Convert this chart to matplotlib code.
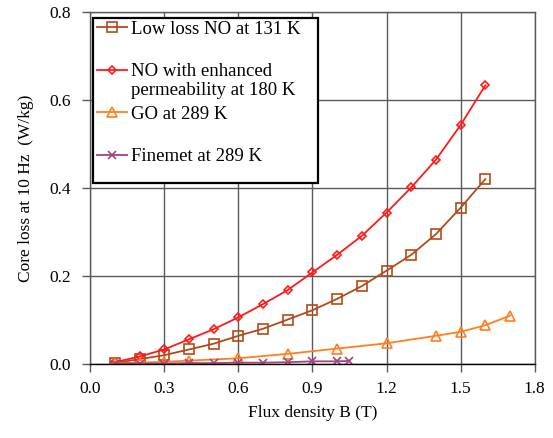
import matplotlib.pyplot as plt
from matplotlib.patches import Rectangle

plt.rcParams['font.family'] = ['Liberation Serif', 'DejaVu Serif']

b_low = [0.1, 0.2, 0.3, 0.4, 0.5, 0.6, 0.7, 0.8, 0.9, 1.0, 1.1, 1.2, 1.3, 1.4, 1.5, 1.6]
p_low = [0.002, 0.011, 0.020, 0.033, 0.046, 0.064, 0.080, 0.101, 0.122, 0.148, 0.177, 0.212,
         0.248, 0.295, 0.355, 0.420]

b_enh = [0.1, 0.2, 0.3, 0.4, 0.5, 0.6, 0.7, 0.8, 0.9, 1.0, 1.1, 1.2, 1.3, 1.4, 1.5, 1.6]
p_enh = [0.004, 0.017, 0.033, 0.056, 0.079, 0.106, 0.136, 0.168, 0.208, 0.248, 0.291, 0.344,
         0.401, 0.464, 0.543, 0.633]

b_go = [0.1, 0.2, 0.3, 0.4, 0.6, 0.8, 1.0, 1.2, 1.4, 1.5, 1.6, 1.7]
p_go = [0.002, 0.003, 0.005, 0.0075, 0.013, 0.023, 0.035, 0.047, 0.064, 0.073, 0.088, 0.110]

b_fin = [0.1, 0.2, 0.3, 0.4, 0.5, 0.6, 0.7, 0.8, 0.9, 1.0, 1.05]
p_fin = [0.001, 0.001, 0.001, 0.002, 0.002, 0.003, 0.003, 0.004, 0.006, 0.006, 0.007]

fig = plt.figure(figsize=(5.53, 4.38), dpi=100)
ax = fig.add_axes([0.163, 0.169, 0.804, 0.804])

ax.plot(b_low, p_low, color='#B34A17', marker='s', ms=6.5, mfc='none', mew=1.2, lw=1.3,
        label='Low loss NO at 131 K')
ax.plot(b_enh, p_enh, color='#FF1A1A', marker='D', ms=4.5, mfc='none', mew=1.2, lw=1.3,
        label='NO with enhanced')
ax.plot(b_go, p_go, color='#FF7F1E', marker='^', ms=6.5, mfc='none', mew=1.2, lw=1.3,
        label='GO at 289 K')
ax.plot(b_fin, p_fin, color='#A0457E', marker='x', ms=5.5, mew=1.2, lw=1.3,
        label='Finemet at 289 K')

ax.set_xlim(0, 1.8)
ax.set_ylim(0, 0.8)
ax.set_xticks([0.0, 0.3, 0.6, 0.9, 1.2, 1.5, 1.8])
ax.set_yticks([0.0, 0.2, 0.4, 0.6, 0.8])
ax.set_xticklabels(['0.0', '0.3', '0.6', '0.9', '1.2', '1.5', '1.8'])
ax.set_yticklabels(['0.0', '0.2', '0.4', '0.6', '0.8'])
ax.grid(True, color='#5a5a5a', lw=1.0)
ax.set_axisbelow(True)
for s in ax.spines.values():
    s.set_linewidth(1.0)
    s.set_color('#5a5a5a')
ax.spines['bottom'].set_color('black')
ax.tick_params(labelsize=12.5, length=6, width=1.0, direction='out', color='#5a5a5a')
ax.tick_params(axis='y', pad=8)
ax.tick_params(axis='x', pad=6)
ax.set_xlabel('Flux density B (T)', fontsize=12.5, labelpad=6)
ax.set_ylabel('Core loss at 10 Hz  (W/kg)', fontsize=12.5, labelpad=11)

# legend box
ax.add_patch(Rectangle((0.0067, 0.514), 0.505, 0.469, transform=ax.transAxes,
                       facecolor='white', edgecolor='black', lw=1.6, zorder=4))
leg = ax.legend(loc='upper left', bbox_to_anchor=(0.007, 0.985), fontsize=13.5, frameon=False,
                labelspacing=1.35, handlelength=1.6, handletextpad=0.2, borderpad=0.2,
                borderaxespad=0)
leg.set_zorder(5)
ax.annotate('permeability at 180 K', xy=(0, 0), xycoords=leg.get_texts()[1],
            xytext=(0, -1), textcoords='offset points', va='top', ha='left',
            fontsize=13.5, zorder=6)

fig.savefig('out.png', dpi=100)
